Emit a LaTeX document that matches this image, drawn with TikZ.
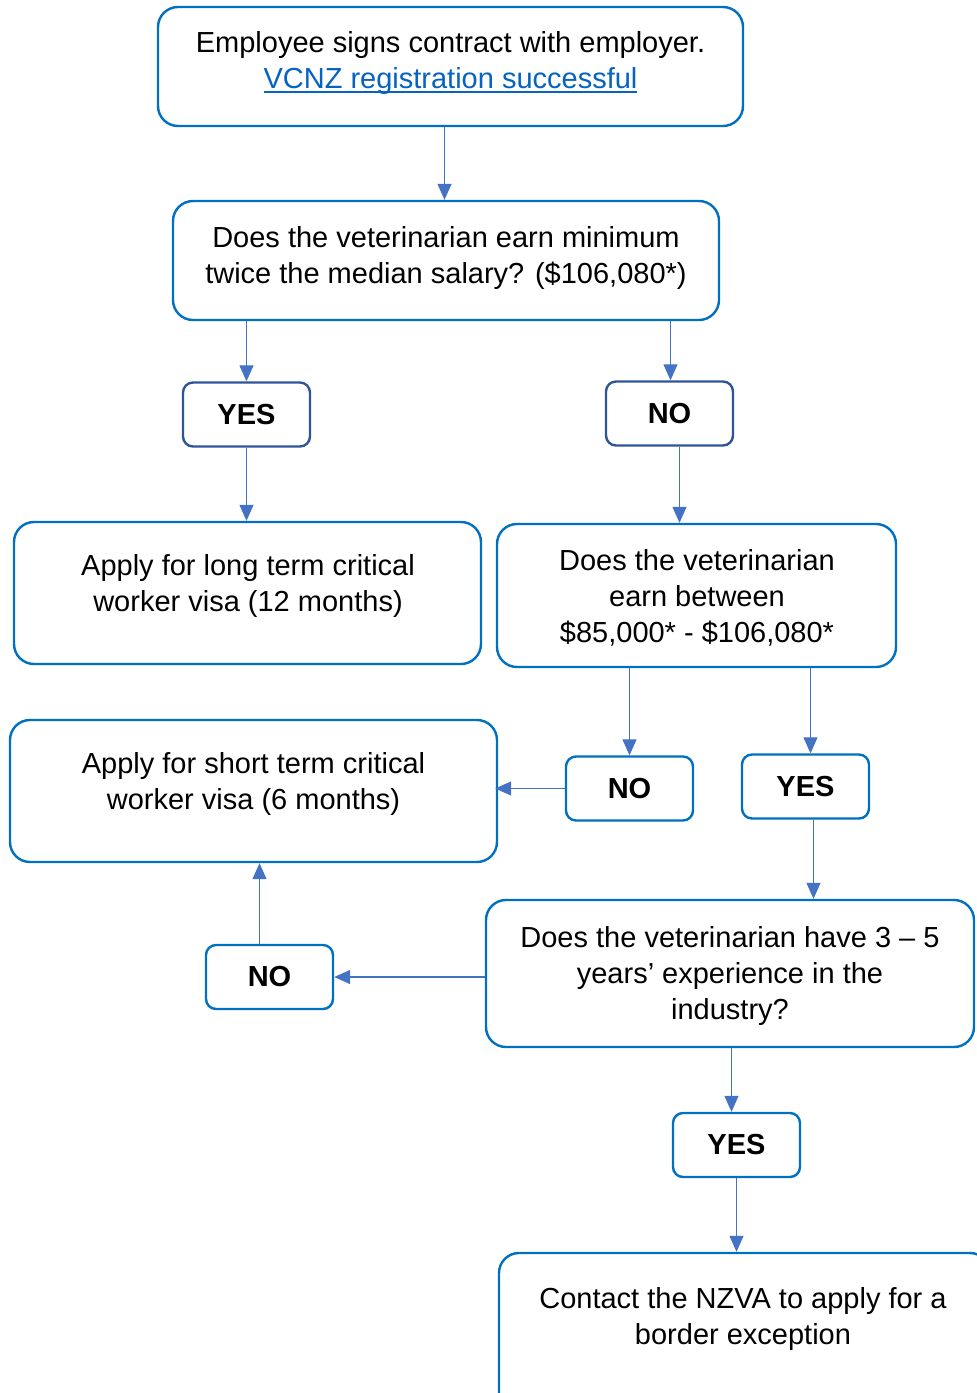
\documentclass[tikz,border=0pt]{standalone}
\usepackage{fontspec}
\setmainfont{Liberation Sans}
\usepackage{xcolor}
\usepackage{tikz}
\usetikzlibrary{arrows.meta}

\definecolor{boxblue}{HTML}{0070C0}
\definecolor{darkblue}{HTML}{2F5597}
\definecolor{arrowblue}{HTML}{4472C4}
\definecolor{linkblue}{HTML}{0563C1}

\newcommand{\linkline}[1]{\setbox0\hbox{#1}\rlap{\rule[-5pt]{\wd0}{2pt}}\box0}

\tikzset{
	bigbox/.style={draw=boxblue, line width=2.4pt, rounded corners=20pt, fill=white},
	smallbox/.style={draw=boxblue, line width=2.4pt, rounded corners=10pt, fill=white, minimum width=127pt, minimum height=64pt, font=\fontsize{29}{36}\selectfont\bfseries},
	darkbox/.style={smallbox, draw=darkblue},
	boxtext/.style={align=center, inner sep=0pt, font=\fontsize{29}{36}\selectfont},
	arr/.style={draw=arrowblue, line width=1.3pt, -{Triangle[width=14pt,length=16pt]}},
}

\begin{document}
\begin{tikzpicture}[x=1pt, y=-1pt]
		\useasboundingbox (0,0) rectangle (977,1393);
		\clip (0,0) rectangle (977,1393);
		\node [bigbox, minimum width=585pt, minimum height=119pt] (start) at (450.5,66.5) {};
		\node [boxtext] (start-t) at (450.5,62.5) {Employee signs contract with employer.\\ \textcolor{linkblue}{\linkline{VCNZ registration successful}}};
		\node [bigbox, minimum width=546pt, minimum height=119pt] (salary) at (446,260.5) {};
		\node [boxtext] (salary-t) at (446,257.5) {Does the veterinarian earn minimum\\ twice the median salary? (\$106,080*)};
		\node [darkbox] (yes1) at (246.5,414.5) {YES};
		\node [darkbox] (no1) at (669.5,413.5) {NO};
		\node [bigbox, minimum width=467pt, minimum height=142pt] (long) at (247.5,593) {};
		\node [boxtext] (long-t) at (248,585.5) {Apply for long term critical\\ worker visa (12 months)};
		\node [bigbox, minimum width=399pt, minimum height=143pt] (between) at (696.5,595.5) {};
		\node [boxtext] (between-t) at (697,598) {Does the veterinarian\\ earn between\\ \$85,000* - \$106,080*};
		\node [smallbox] (no2) at (629.5,788.5) {NO};
		\node [smallbox] (yes2) at (805.5,786.5) {YES};
		\node [bigbox, minimum width=487pt, minimum height=142pt] (short) at (253.5,791) {};
		\node [boxtext] (short-t) at (253.5,783.5) {Apply for short term critical\\ worker visa (6 months)};
		\node [bigbox, minimum width=488pt, minimum height=147pt] (experience) at (730,973.5) {};
		\node [boxtext] (experience-t) at (730,975.5) {Does the veterinarian have 3 – 5\\ years’ experience in the\\ industry?};
		\node [smallbox] (no3) at (269.5,977) {NO};
		\node [smallbox] (yes3) at (736.5,1145) {YES};
		\node [bigbox, minimum width=491pt, minimum height=167pt] (contact) at (744.5,1336.5) {};
		\node [boxtext] (contact-t) at (743,1319) {Contact the NZVA to apply for a\\ border exception};
		\draw [arr] ([xshift=-6pt]start.south) -- ([xshift=-6pt]start.south |- salary.north);
		\draw [arr] (yes1.north |- salary.south) -- (yes1.north);
		\draw [arr] ([xshift=1pt]no1.north |- salary.south) -- ([xshift=1pt]no1.north);
		\draw [arr] (yes1.south) -- (yes1.south |- long.north);
		\draw [arr] ([xshift=10pt]no1.south) -- ([xshift=10pt]no1.south |- between.north);
		\draw [arr] (no2.north |- between.south) -- (no2.north);
		\draw [arr] ([xshift=5pt]yes2.north |- between.south) -- ([xshift=5pt]yes2.north);
		\draw [arr] (no2.west) -- ([xshift=-3pt]no2.west -| short.east);
		\draw [arr] ([xshift=8pt]yes2.south) -- ([xshift=8pt]yes2.south |- experience.north);
		\draw [arr] (no3.east -| experience.west) -- (no3.east);
		\draw [arr] ([xshift=-10pt]no3.north) -- ([xshift=-10pt]no3.north |- short.south);
		\draw [arr] ([xshift=-5pt]yes3.north |- experience.south) -- ([xshift=-5pt]yes3.north);
		\draw [arr] (yes3.south) -- (yes3.south |- contact.north);
	\end{tikzpicture}
\end{document}
